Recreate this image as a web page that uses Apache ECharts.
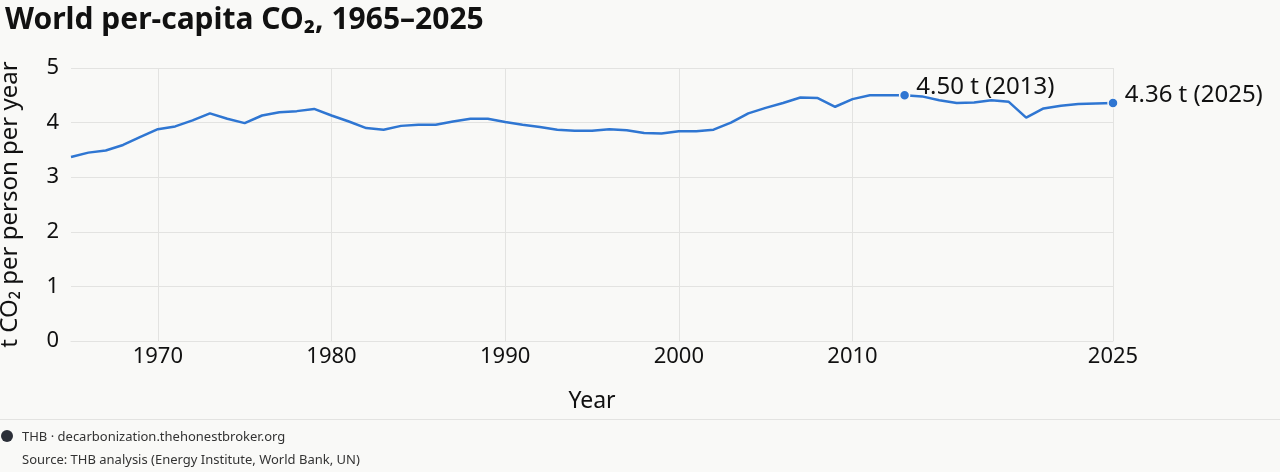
<!DOCTYPE html>
<html>
<head>
    <meta charset="utf-8">
    <title>World per-capita CO2</title>
    <script src="https://cdn.jsdelivr.net/npm/echarts@6/dist/echarts.min.js"></script>
    <style>
        html, body {margin: 0; padding: 0; background: #f9f9f7;}
        #main {width: 1280px; height: 472px;}
    </style>
</head>
<body>
<div id="main"></div>
<script type="text/javascript">
    // data
    var years = ['1965','1966','1967','1968','1969','1970','1971','1972','1973','1974',
        '1975','1976','1977','1978','1979','1980','1981','1982','1983','1984',
        '1985','1986','1987','1988','1989','1990','1991','1992','1993','1994',
        '1995','1996','1997','1998','1999','2000','2001','2002','2003','2004',
        '2005','2006','2007','2008','2009','2010','2011','2012','2013','2014',
        '2015','2016','2017','2018','2019','2020','2021','2022','2023','2024','2025'];
    var perCapita = [3.37, 3.45, 3.49, 3.59, 3.74, 3.88, 3.93, 4.04, 4.17, 4.07,
        3.99, 4.13, 4.19, 4.21, 4.25, 4.13, 4.02, 3.90, 3.87, 3.94,
        3.96, 3.96, 4.02, 4.07, 4.07, 4.01, 3.96, 3.92, 3.87, 3.85,
        3.85, 3.88, 3.86, 3.81, 3.80, 3.84, 3.84, 3.87, 4.00, 4.17,
        4.27, 4.36, 4.46, 4.45, 4.29, 4.43, 4.50, 4.50, 4.50, 4.48,
        4.41, 4.36, 4.37, 4.41, 4.38, 4.09, 4.26, 4.31, 4.34, 4.35, 4.36];
    var shownYears = ['1970','1980','1990','2000','2010','2025'];
    var yTicks = [0, 1, 2, 3, 4, 5];
    var callouts = [
        {year: '2013', value: 4.50, text: '4.50 t (2013)'},
        {year: '2025', value: 4.36, text: '4.36 t (2025)'}
    ];

    var font = 'Noto Sans';
    var gridColor = '#e3e3e1';
    var lineColor = '#2f76d2';

    var myChart = echarts.init(document.getElementById('main'));
    var option = {
        backgroundColor: '#f9f9f7',
        textStyle: {fontFamily: font},
        animation: false,
        title: [{
            text: 'World per-capita CO₂, 1965–2025',
            left: 0,
            top: 0,
            textStyle: {fontFamily: font, fontSize: 30, fontWeight: 'bold', color: '#111'}
        }, {
            text: 'THB · decarbonization.thehonestbroker.org',
            left: 17,
            top: 426,
            textStyle: {fontFamily: font, fontSize: 13, fontWeight: 'normal', color: '#333'}
        }, {
            text: 'Source: THB analysis (Energy Institute, World Bank, UN)',
            left: 17,
            top: 449,
            textStyle: {fontFamily: font, fontSize: 13, fontWeight: 'normal', color: '#333'}
        }],
        graphic: [{
            type: 'line',
            shape: {x1: 0, y1: 419.5, x2: 1280, y2: 419.5},
            style: {stroke: '#e3e3e1', lineWidth: 1}
        }, {
            type: 'circle',
            shape: {cx: 7, cy: 436, r: 6},
            style: {fill: '#2b2f38'}
        }],
        grid: {left: 71, right: 167, top: 68, bottom: 131, outerBoundsMode: 'none', containLabel: false},
        xAxis: {
            type: 'category',
            data: years,
            boundaryGap: false,
            name: 'Year',
            nameLocation: 'middle',
            nameGap: 49,
            nameTextStyle: {fontSize: 23, color: '#111'},
            axisLine: {lineStyle: {color: gridColor}},
            axisTick: {show: false},
            axisLabel: {
                fontSize: 22,
                color: '#111',
                margin: 5,
                interval: function (i, v) { return shownYears.indexOf(v) >= 0; }
            },
            splitLine: {
                show: true,
                lineStyle: {color: gridColor},
                interval: function (i, v) { return shownYears.indexOf(v) >= 0; }
            }
        },
        yAxis: {
            type: 'value',
            min: yTicks[0],
            max: yTicks[yTicks.length - 1],
            interval: 1,
            name: 't CO₂ per person per year',
            nameLocation: 'middle',
            nameGap: 49,
            nameTextStyle: {fontSize: 24, color: '#111'},
            axisLine: {show: false},
            axisTick: {show: false},
            axisLabel: {fontSize: 22, color: '#111', margin: 12},
            splitLine: {lineStyle: {color: gridColor}}
        },
        series: [{
            name: 'World',
            type: 'line',
            data: perCapita,
            showSymbol: false,
            lineStyle: {color: lineColor, width: 2.5},
            itemStyle: {color: lineColor},
            markPoint: {
                symbol: 'circle',
                symbolSize: 10,
                itemStyle: {color: lineColor, borderColor: '#f9f9f7', borderWidth: 1.5},
                data: callouts.map(function (c) {
                    return {
                        coord: [c.year, c.value],
                        label: {
                            show: true,
                            position: 'right',
                            distance: 6,
                            offset: [0, -8],
                            formatter: c.text,
                            fontSize: 24,
                            color: '#111',
                            fontFamily: font
                        }
                    };
                })
            }
        }]
    };
    myChart.setOption(option);
</script>
</body>
</html>
